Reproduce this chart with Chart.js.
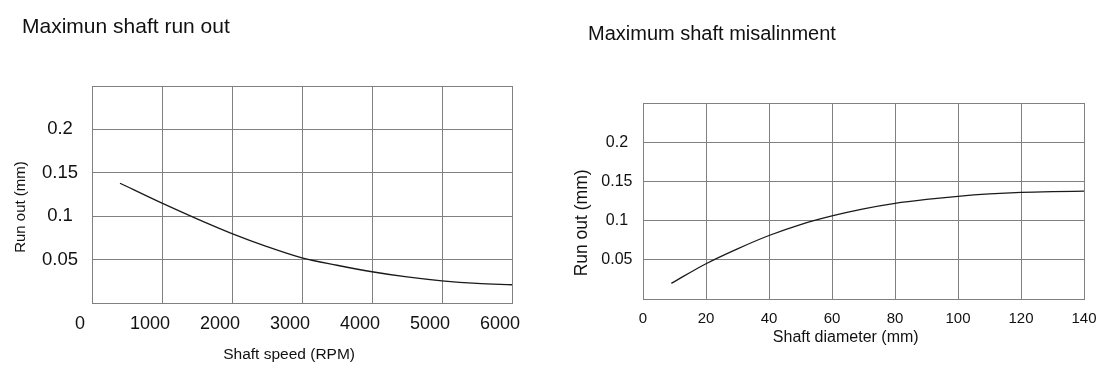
<!DOCTYPE html>
<html>
<head>
<meta charset="utf-8">
<script src="https://cdn.jsdelivr.net/npm/chart.js@4"></script>
<style>
  body { margin: 0; background: #fff; }
  .box { position: absolute; top: 0; height: 369px; }
  #leftBox { left: 0; width: 550px; }
  #rightBox { left: 550px; width: 552px; }
</style>
</head>
<body>
<div class="box" id="leftBox"><canvas id="runoutChart"></canvas></div>
<div class="box" id="rightBox"><canvas id="misalignChart"></canvas></div>
<script>
const FONT = "'Liberation Sans', Arial, sans-serif";

// left chart: run out vs shaft speed
const speedRpm = [400, 1000, 1500, 2000, 2500, 3000, 3500, 4000, 4500, 5000, 5500, 6000];
const speedRunout = [0.138, 0.115, 0.097, 0.080, 0.065, 0.052, 0.0435, 0.036, 0.030, 0.0255, 0.0225, 0.021];
const speedTicks = ['0', '1000', '2000', '3000', '4000', '5000', '6000'];

// right chart: run out vs shaft diameter
const diameterMm = [9, 20, 30, 40, 50, 60, 70, 80, 90, 100, 110, 120, 130, 140];
const diameterRunout = [0.020, 0.045, 0.064, 0.081, 0.095, 0.106, 0.115, 0.122, 0.127, 0.131, 0.134, 0.136, 0.137, 0.1375];
const diameterTicks = ['0', '20', '40', '60', '80', '100', '120', '140'];

const runoutTicks = ['', '0.05', '0.1', '0.15', '0.2', ''];

const gridColor = '#808080';

function makeChart(canvasId, cfg) {
    const points = cfg.xs.map((x, i) => ({ x: x, y: cfg.ys[i] }));
    return new Chart(document.getElementById(canvasId).getContext('2d'), {
        type: 'line',
        data: {
            datasets: [{
                data: points,
                borderColor: '#1a1a1a',
                borderWidth: 1.3,
                pointRadius: 0,
                fill: false,
                cubicInterpolationMode: 'monotone'
            }]
        },
        options: {
            responsive: true,
            maintainAspectRatio: false,
            animation: false,
            layout: { padding: cfg.padding },
            plugins: {
                legend: { display: false },
                tooltip: { enabled: false },
                title: {
                    display: true,
                    text: cfg.title,
                    align: 'start',
                    color: '#111',
                    font: { family: FONT, size: cfg.titleSize, weight: 'normal' },
                    padding: cfg.titlePad
                }
            },
            scales: {
                x: {
                    type: 'linear',
                    min: 0,
                    max: cfg.xMax,
                    afterFit: s => {
                        s.height = cfg.xAxisH;
                        s.paddingLeft = 0;
                        s.paddingRight = 0;
                    },
                    ticks: {
                        stepSize: cfg.xStep,
                        color: '#111',
                        padding: cfg.xTickPad,
                        labelOffset: cfg.xLabelOffset,
                        maxRotation: 0,
                        autoSkip: false,
                        font: { family: FONT, size: cfg.xTickSize },
                        callback: (v, i) => cfg.xLabels[i]
                    },
                    grid: { color: gridColor, lineWidth: 1, drawTicks: false },
                    border: { color: gridColor },
                    title: {
                        display: true,
                        text: cfg.xTitle,
                        color: '#111',
                        font: { family: FONT, size: cfg.xTitleSize },
                        padding: { top: 0, bottom: cfg.xTitleBottom }
                    }
                },
                y: {
                    min: 0,
                    max: 0.25,
                    afterFit: s => {
                        s.width = cfg.yAxisW;
                        s.paddingTop = 0;
                        s.paddingBottom = 0;
                    },
                    ticks: {
                        stepSize: 0.05,
                        color: '#111',
                        crossAlign: 'center',
                        padding: cfg.yTickPad,
                        font: { family: FONT, size: cfg.yTickSize },
                        callback: (v, i) => runoutTicks[i]
                    },
                    grid: { color: gridColor, lineWidth: 1, drawTicks: false },
                    border: { color: gridColor },
                    title: {
                        display: true,
                        text: cfg.yTitle,
                        color: '#111',
                        font: { family: FONT, size: cfg.yTitleSize },
                        padding: { top: cfg.yTitleTop, bottom: 0 }
                    }
                }
            }
        }
    });
}

makeChart('runoutChart', {
    xs: speedRpm, ys: speedRunout, xLabels: speedTicks,
    title: 'Maximun shaft run out', titleSize: 21,
    xTitle: 'Shaft speed (RPM)      ',
    yTitle: 'Run out (mm)      ',
    xMax: 6000, xStep: 1000,
    padding: { left: 22, right: 38, top: 0, bottom: 0 },
    titlePad: { top: 14.5, bottom: 46.3 },
    xAxisH: 66, yAxisW: 70,
    xTickPad: 10.7, xLabelOffset: -12, xTickSize: 18,
    xTitleSize: 15.5, xTitleBottom: 5,
    yTickPad: 14, yTickSize: 18.5,
    yTitleSize: 15, yTitleTop: -10.5
});

makeChart('misalignChart', {
    xs: diameterMm, ys: diameterRunout, xLabels: diameterTicks,
    title: 'Maximum shaft misalinment', titleSize: 20,
    xTitle: 'Shaft diameter (mm)        ',
    yTitle: 'Run out (mm)         ',
    xMax: 140, xStep: 20,
    padding: { left: 38, right: 18, top: 0, bottom: 0 },
    titlePad: { top: 22, bottom: 57 },
    xAxisH: 70, yAxisW: 55,
    xTickPad: 10.5, xLabelOffset: 0, xTickSize: 15,
    xTitleSize: 16, xTitleBottom: 22,
    yTickPad: 10.5, yTickSize: 16,
    yTitleSize: 17.5, yTitleTop: -16
});
</script>
</body>
</html>
